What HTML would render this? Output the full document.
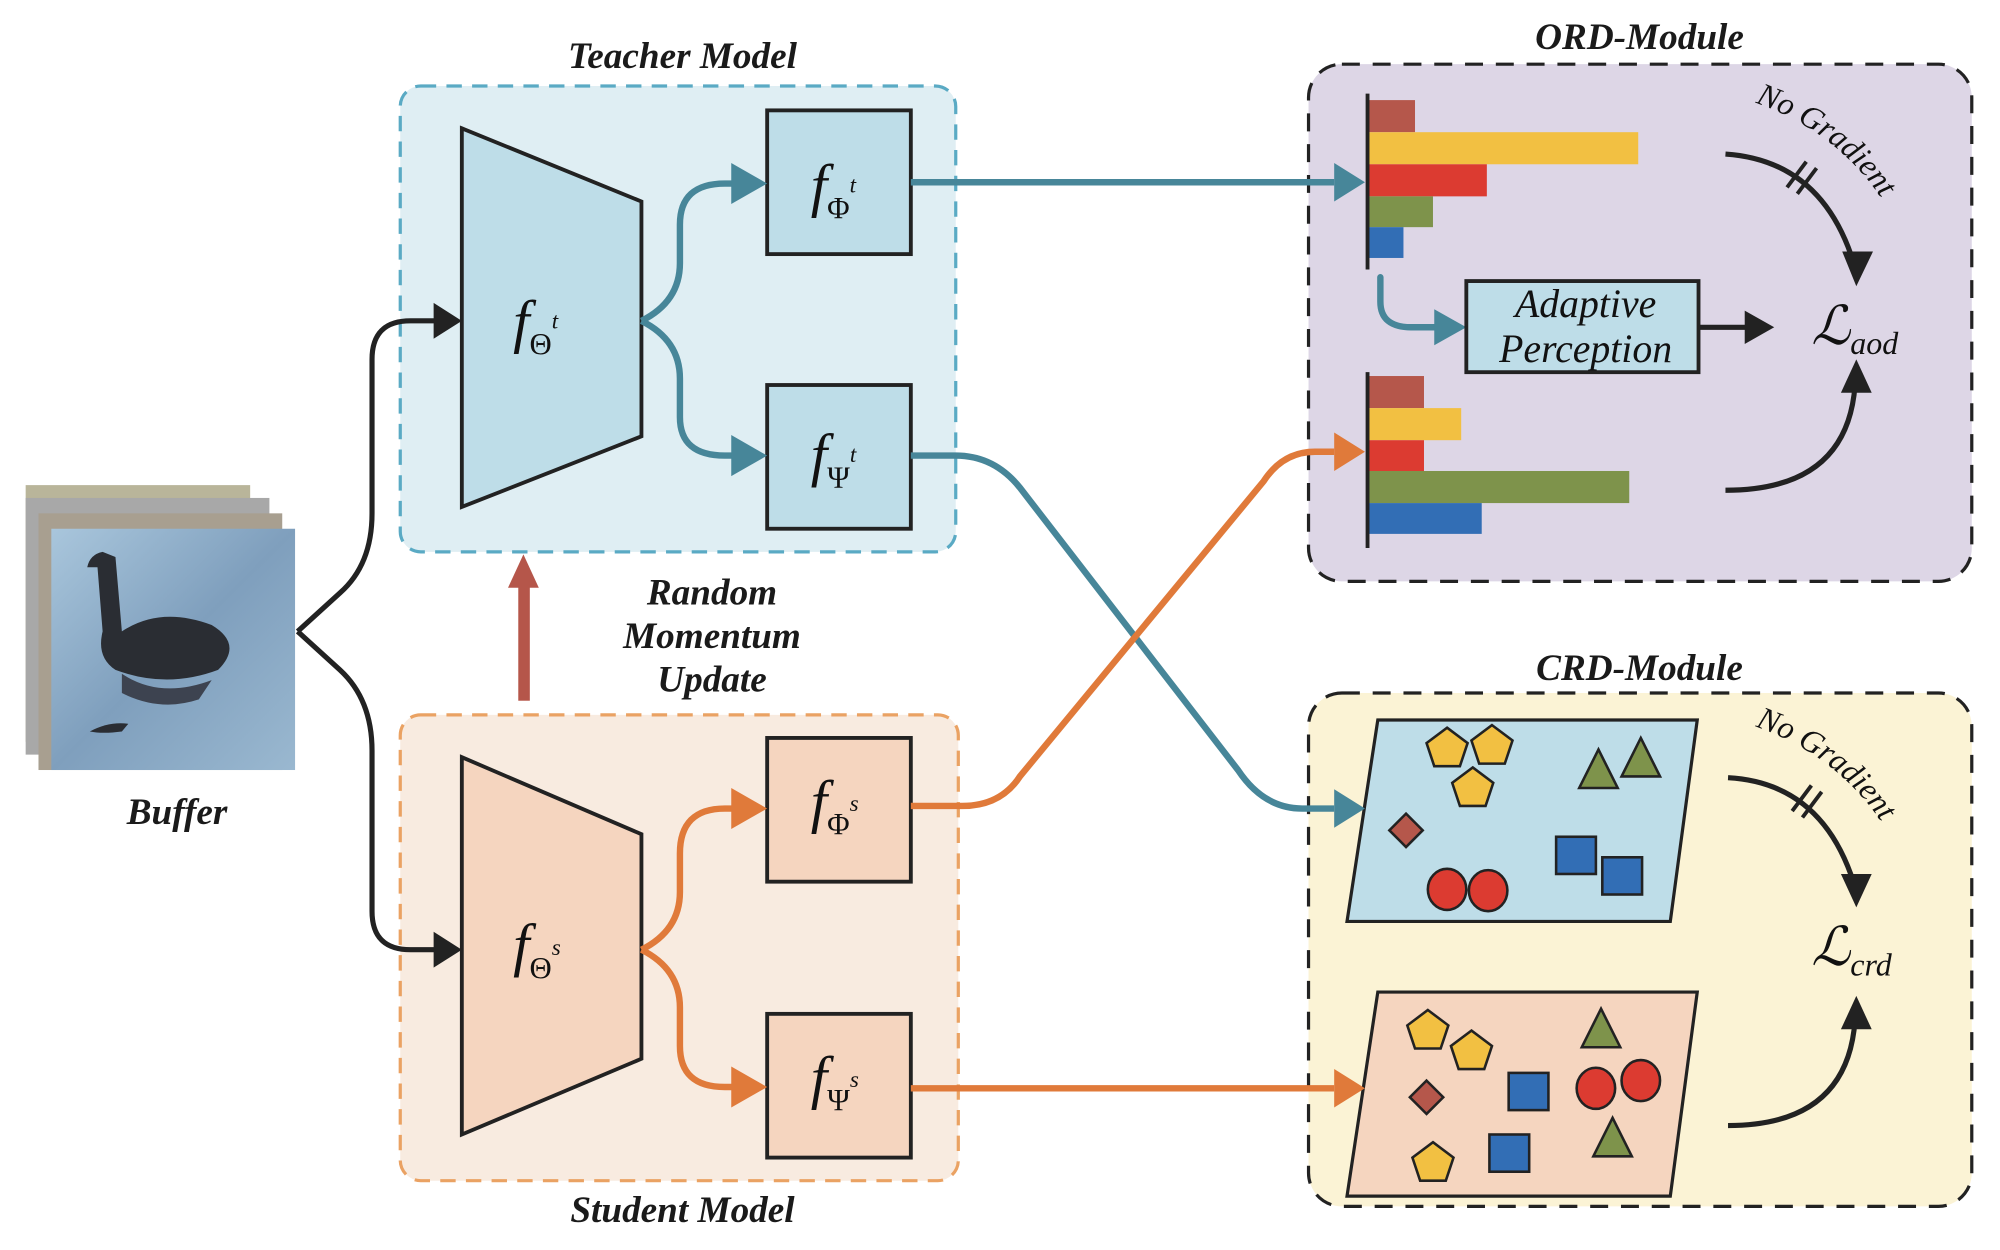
<!DOCTYPE html>
<html><head><meta charset="utf-8"><style>html,body{margin:0;padding:0;background:#fff}svg{display:block}</style></head>
<body>
<svg width="2000" height="1250" viewBox="0 0 1559 974" preserveAspectRatio="none" xmlns="http://www.w3.org/2000/svg" font-family="Liberation Serif, serif">
<defs>
<linearGradient id="water" x1="0" y1="0" x2="1" y2="1"><stop offset="0" stop-color="#a9c6dc"/><stop offset="0.5" stop-color="#7f9fbd"/><stop offset="1" stop-color="#9ab8d0"/></linearGradient>
<path id="ng1" d="M1368,80 Q1455,110 1490,200"/>
<path id="ng2" d="M1368,566 Q1455,596 1490,686"/>
</defs>
<!-- Buffer images -->
<rect x="20" y="378" width="175" height="200" fill="#b9b59a"/>
<rect x="20" y="388" width="190" height="200" fill="#a8a8a8"/>
<rect x="30" y="400" width="190" height="200" fill="#a89f90"/>
<rect x="40" y="412" width="190" height="188" fill="url(#water)"/>
<path d="M80,430 q-10,2 -12,12 l8,0 l4,50 q-5,20 10,30 q40,15 80,0 q20,-20 -5,-35 q-40,-15 -70,5 l-5,-58 z" fill="#2a2d33"/>
<path d="M95,525 q30,20 70,5 l-10,15 q-30,10 -60,-5z" fill="#3d4350"/>
<path d="M70,570 q15,-8 30,-6 l-5,6 q-15,2 -25,0z" fill="#2a2d33"/>
<text x="138" y="642" font-size="29" font-weight="bold" font-style="italic" text-anchor="middle" fill="#1a1a1a">Buffer</text>

<!-- Teacher box -->
<rect x="312" y="67" width="433" height="363" rx="16" fill="#dfeef3" stroke="#5aaac4" stroke-width="2.5" stroke-dasharray="12,8"/>
<text x="532" y="53" font-size="29" font-weight="bold" font-style="italic" text-anchor="middle" fill="#1a1a1a">Teacher Model</text>
<polygon points="360,100 500,157 500,340 360,395" fill="#bedde8" stroke="#222" stroke-width="3"/>
<rect x="598" y="86" width="112" height="112" fill="#bedde8" stroke="#222" stroke-width="3"/>
<rect x="598" y="300" width="112" height="112" fill="#bedde8" stroke="#222" stroke-width="3"/>

<!-- Student box -->
<rect x="312" y="557" width="435" height="363" rx="16" fill="#f8ebe0" stroke="#eaa263" stroke-width="2.5" stroke-dasharray="12,8"/>
<text x="532" y="952" font-size="29" font-weight="bold" font-style="italic" text-anchor="middle" fill="#1a1a1a">Student Model</text>
<polygon points="360,590 500,650 500,825 360,884" fill="#f5d5bf" stroke="#222" stroke-width="3"/>
<rect x="598" y="575" width="112" height="112" fill="#f5d5bf" stroke="#222" stroke-width="3"/>
<rect x="598" y="790" width="112" height="112" fill="#f5d5bf" stroke="#222" stroke-width="3"/>

<!-- math labels -->
<g font-style="italic" fill="#111">
<text x="400" y="266" font-size="46">f<tspan font-style="normal" font-size="24" dy="10">Θ</tspan><tspan font-size="18" dy="-20">t</tspan></text>
<text x="632" y="160" font-size="46">f<tspan font-style="normal" font-size="24" dy="10">Φ</tspan><tspan font-size="18" dy="-20">t</tspan></text>
<text x="632" y="370" font-size="46">f<tspan font-style="normal" font-size="24" dy="10">Ψ</tspan><tspan font-size="18" dy="-20">t</tspan></text>
<text x="400" y="752" font-size="46">f<tspan font-style="normal" font-size="24" dy="10">Θ</tspan><tspan font-size="18" dy="-18">s</tspan></text>
<text x="632" y="640" font-size="46">f<tspan font-style="normal" font-size="24" dy="10">Φ</tspan><tspan font-size="18" dy="-18">s</tspan></text>
<text x="632" y="855" font-size="46">f<tspan font-style="normal" font-size="24" dy="10">Ψ</tspan><tspan font-size="18" dy="-18">s</tspan></text>
</g>

<!-- black input arrows -->
<path d="M232,492 L265,462 Q290,440 290,400 L290,280 Q290,250 320,250 L340,250" fill="none" stroke="#222" stroke-width="4"/>
<path d="M232,492 L265,522 Q290,545 290,585 L290,710 Q290,740 320,740 L340,740" fill="none" stroke="#222" stroke-width="4"/>
<polygon points="360,250 338,236 338,264" fill="#222"/>
<polygon points="360,740 338,726 338,754" fill="#222"/>

<!-- teacher internal teal -->
<g fill="none" stroke="#478699" stroke-width="5">
<path d="M500,250 Q530,235 530,205 L530,175 Q530,143 565,143 L575,143"/>
<path d="M500,250 Q530,265 530,295 L530,325 Q530,355 565,355 L575,355"/>
</g>
<polygon points="598,143 570,127 570,159" fill="#478699"/>
<polygon points="598,355 570,339 570,371" fill="#478699"/>
<!-- student internal orange -->
<g fill="none" stroke="#e07a3a" stroke-width="5">
<path d="M500,740 Q530,725 530,695 L530,665 Q530,630 565,630 L575,630"/>
<path d="M500,740 Q530,755 530,785 L530,815 Q530,847 565,847 L575,847"/>
</g>
<polygon points="598,630 570,614 570,646" fill="#e07a3a"/>
<polygon points="598,847 570,831 570,863" fill="#e07a3a"/>

<!-- red momentum arrow -->
<rect x="404" y="455" width="9" height="91" fill="#b5564a"/>
<polygon points="408,432 396,458 420,458" fill="#b5564a"/>
<g font-size="29" font-weight="bold" font-style="italic" text-anchor="middle" fill="#1a1a1a">
<text x="555" y="471">Random</text>
<text x="555" y="505">Momentum</text>
<text x="555" y="539">Update</text>
</g>

<!-- ORD module -->
<rect x="1020" y="50" width="517" height="403" rx="26" fill="#ddd6e6" stroke="#222" stroke-width="2.5" stroke-dasharray="14,10"/>
<text x="1278" y="38" font-size="29" font-weight="bold" font-style="italic" text-anchor="middle" fill="#1a1a1a">ORD-Module</text>
<rect x="1066" y="78" width="37" height="25" fill="#b5574b"/>
<rect x="1066" y="103" width="211" height="25" fill="#f2c042"/>
<rect x="1066" y="128" width="93" height="25" fill="#dc3b31"/>
<rect x="1066" y="153" width="51" height="24" fill="#7e934b"/>
<rect x="1066" y="177" width="28" height="24" fill="#326eb5"/>
<line x1="1066" y1="73" x2="1066" y2="210" stroke="#222" stroke-width="3"/>
<rect x="1066" y="293" width="44" height="25" fill="#b5574b"/>
<rect x="1066" y="318" width="73" height="25" fill="#f2c042"/>
<rect x="1066" y="343" width="44" height="24" fill="#dc3b31"/>
<rect x="1066" y="367" width="204" height="25" fill="#7e934b"/>
<rect x="1066" y="392" width="89" height="24" fill="#326eb5"/>
<line x1="1066" y1="290" x2="1066" y2="427" stroke="#222" stroke-width="3"/>
<path d="M1076,216 L1076,235 Q1076,255 1100,255 L1120,255" fill="none" stroke="#478699" stroke-width="5" stroke-linecap="round"/>
<polygon points="1143,255 1118,241 1118,269" fill="#478699"/>
<rect x="1143" y="219" width="181" height="71" fill="#bedde8" stroke="#222" stroke-width="3"/>
<text x="1236" y="247" font-size="31" font-style="italic" text-anchor="middle" fill="#111">Adaptive</text>
<text x="1236" y="282" font-size="31" font-style="italic" text-anchor="middle" fill="#111">Perception</text>
<line x1="1324" y1="255" x2="1362" y2="255" stroke="#222" stroke-width="4"/>
<polygon points="1383,255 1360,242 1360,268" fill="#222"/>
<text x="1412" y="268" font-size="42" font-style="italic" fill="#111">ℒ<tspan font-size="25" dy="8">aod</tspan></text>
<path d="M1345,120 Q1420,125 1445,205" fill="none" stroke="#222" stroke-width="4"/>
<polygon points="1447,223 1436,196 1460,196" fill="#222"/>
<line x1="1393" y1="146" x2="1408" y2="126" stroke="#222" stroke-width="3"/>
<line x1="1401" y1="151" x2="1416" y2="131" stroke="#222" stroke-width="3"/>
<text font-size="25" fill="#111" font-style="italic"><textPath href="#ng1">No Gradient</textPath></text>
<path d="M1345,382 Q1440,382 1446,300" fill="none" stroke="#222" stroke-width="4"/>
<polygon points="1447,280 1435,306 1459,306" fill="#222"/>

<!-- CRD module -->
<rect x="1020" y="540" width="517" height="400" rx="26" fill="#fbf3d5" stroke="#222" stroke-width="2.5" stroke-dasharray="14,10"/>
<text x="1278" y="530" font-size="29" font-weight="bold" font-style="italic" text-anchor="middle" fill="#1a1a1a">CRD-Module</text>
<polygon points="1074,561 1323,561 1302,718 1050,718" fill="#bedde8" stroke="#222" stroke-width="2.5"/>
<polygon points="1074,773 1323,773 1302,932 1050,932" fill="#f5d5bf" stroke="#222" stroke-width="2.5"/>
<g stroke="#222" stroke-width="2">
<g fill="#f2c042">
<polygon points="1128,567 1144,579 1138,597 1118,597 1112,579"/>
<polygon points="1163,565 1179,577 1173,595 1153,595 1147,577"/>
<polygon points="1148,598 1164,610 1158,628 1138,628 1132,610"/>
<polygon points="1113,787 1129,799 1123,817 1103,817 1097,799"/>
<polygon points="1147,803 1163,815 1157,833 1137,833 1131,815"/>
<polygon points="1117,890 1133,902 1127,920 1107,920 1101,902"/>
</g>
<g fill="#7e934b">
<polygon points="1246,584 1261,614 1231,614"/>
<polygon points="1279,575 1294,605 1264,605"/>
<polygon points="1248,786 1263,816 1233,816"/>
<polygon points="1257,871 1272,901 1242,901"/>
</g>
<g fill="#b5574b">
<polygon points="1096,634 1109,647 1096,660 1083,647"/>
<polygon points="1112,842 1125,855 1112,868 1099,855"/>
</g>
<g fill="#326eb5">
<rect x="1213" y="652" width="31" height="29"/>
<rect x="1249" y="668" width="31" height="29"/>
<rect x="1176" y="836" width="31" height="29"/>
<rect x="1161" y="884" width="31" height="29"/>
</g>
<g fill="#dc3b31">
<ellipse cx="1128" cy="693" rx="15" ry="16"/>
<ellipse cx="1160" cy="694" rx="15" ry="16"/>
<ellipse cx="1244" cy="848" rx="15" ry="16"/>
<ellipse cx="1279" cy="842" rx="15" ry="16"/>
</g>
</g>
<text x="1412" y="752" font-size="42" font-style="italic" fill="#111">ℒ<tspan font-size="25" dy="8">crd</tspan></text>
<path d="M1347,606 Q1420,610 1445,688" fill="none" stroke="#222" stroke-width="4"/>
<polygon points="1447,707 1435,681 1459,681" fill="#222"/>
<line x1="1397" y1="632" x2="1412" y2="612" stroke="#222" stroke-width="3"/>
<line x1="1405" y1="637" x2="1420" y2="617" stroke="#222" stroke-width="3"/>
<text font-size="25" fill="#111" font-style="italic"><textPath href="#ng2">No Gradient</textPath></text>
<path d="M1347,877 Q1440,877 1446,795" fill="none" stroke="#222" stroke-width="4"/>
<polygon points="1447,776 1435,802 1459,802" fill="#222"/>

<!-- long connectors -->
<g fill="none" stroke-width="5">
<path d="M710,142 L1040,142" stroke="#478699"/>
<path d="M710,355 L745,355 Q775,355 795,380 L965,600 Q985,630 1015,630 L1040,630" stroke="#478699"/>
<path d="M710,628 L750,628 Q780,628 795,605 L985,375 Q1000,352 1025,352 L1040,352" stroke="#e07a3a"/>
<path d="M710,848 L1040,848" stroke="#e07a3a"/>
</g>
<polygon points="1064,142 1040,127 1040,157" fill="#478699"/>
<polygon points="1064,630 1040,615 1040,645" fill="#478699"/>
<polygon points="1064,352 1040,337 1040,367" fill="#e07a3a"/>
<polygon points="1064,848 1040,833 1040,863" fill="#e07a3a"/>
</svg>
</body></html>
